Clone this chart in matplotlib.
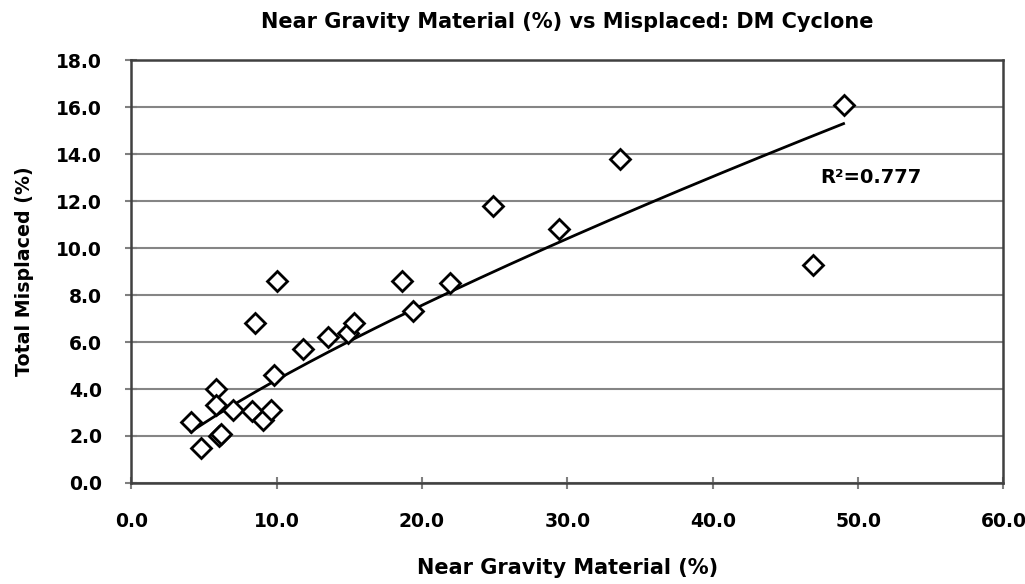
import numpy as np
import matplotlib.pyplot as plt

# values
ngm = [4.1, 4.8, 5.85, 5.85, 6.05, 6.2, 7.0, 8.3, 9.1, 9.6, 8.5, 10.05, 9.85,
       11.85, 13.55, 14.9, 15.35, 18.6, 19.35, 21.9, 24.9, 29.45, 33.6, 46.9, 49.0]
misplaced = [2.6, 1.5, 4.0, 3.3, 2.0, 2.1, 3.1, 3.05, 2.7, 3.1, 6.8, 8.6, 4.6,
             5.7, 6.2, 6.4, 6.8, 8.6, 7.3, 8.5, 11.8, 10.8, 13.8, 9.3, 16.1]
# power trendline y = a * x^b, coefficients
trend_a = 0.718
trend_b = 0.786
r2_label = 'R²=0.777'

plt.rcParams['font.family'] = ['DejaVu Sans']
plt.rcParams['font.weight'] = 'bold'

fig = plt.figure(figsize=(10.25, 5.84), dpi=100)
ax = fig.add_axes([0.128, 0.173, 0.851, 0.724])

ax.grid(axis='y', color='#858585', linewidth=1.5)
ax.set_axisbelow(True)

xs = np.linspace(min(ngm), max(ngm), 200)
ax.plot(xs, trend_a * xs ** trend_b, color='black', linewidth=2)

ax.plot(ngm, misplaced, linestyle='none', marker='D', markersize=10,
        markerfacecolor='white', markeredgecolor='black', markeredgewidth=2)

ax.text(50.9, 13.0, r2_label, fontsize=14, fontweight='bold', ha='center', va='center')

ax.set_xlim(0, 60)
ax.set_ylim(0, 18)
ax.set_xticks(np.arange(0, 61, 10))
ax.set_yticks(np.arange(0, 19, 2))
ax.xaxis.set_major_formatter(lambda v, p: f'{v:.1f}')
ax.yaxis.set_major_formatter(lambda v, p: f'{v:.1f}')
ax.tick_params(axis='both', direction='inout', length=8, width=1.5, color='#7f7f7f',
               labelsize=13.5)
ax.tick_params(axis='x', pad=17)
ax.tick_params(axis='y', pad=17)
for lbl in ax.get_xticklabels() + ax.get_yticklabels():
    lbl.set_fontweight('bold')

for s in ax.spines.values():
    s.set_color('#404040')
    s.set_linewidth(1.8)

ax.set_title('Near Gravity Material (%) vs Misplaced: DM Cyclone', fontsize=15,
             fontweight='bold', pad=23)
ax.set_xlabel('Near Gravity Material (%)', fontsize=15, fontweight='bold', labelpad=19)
ax.set_ylabel('Total Misplaced (%)', fontsize=13.7, fontweight='bold', labelpad=16)

fig.savefig('out.png', dpi=100)
